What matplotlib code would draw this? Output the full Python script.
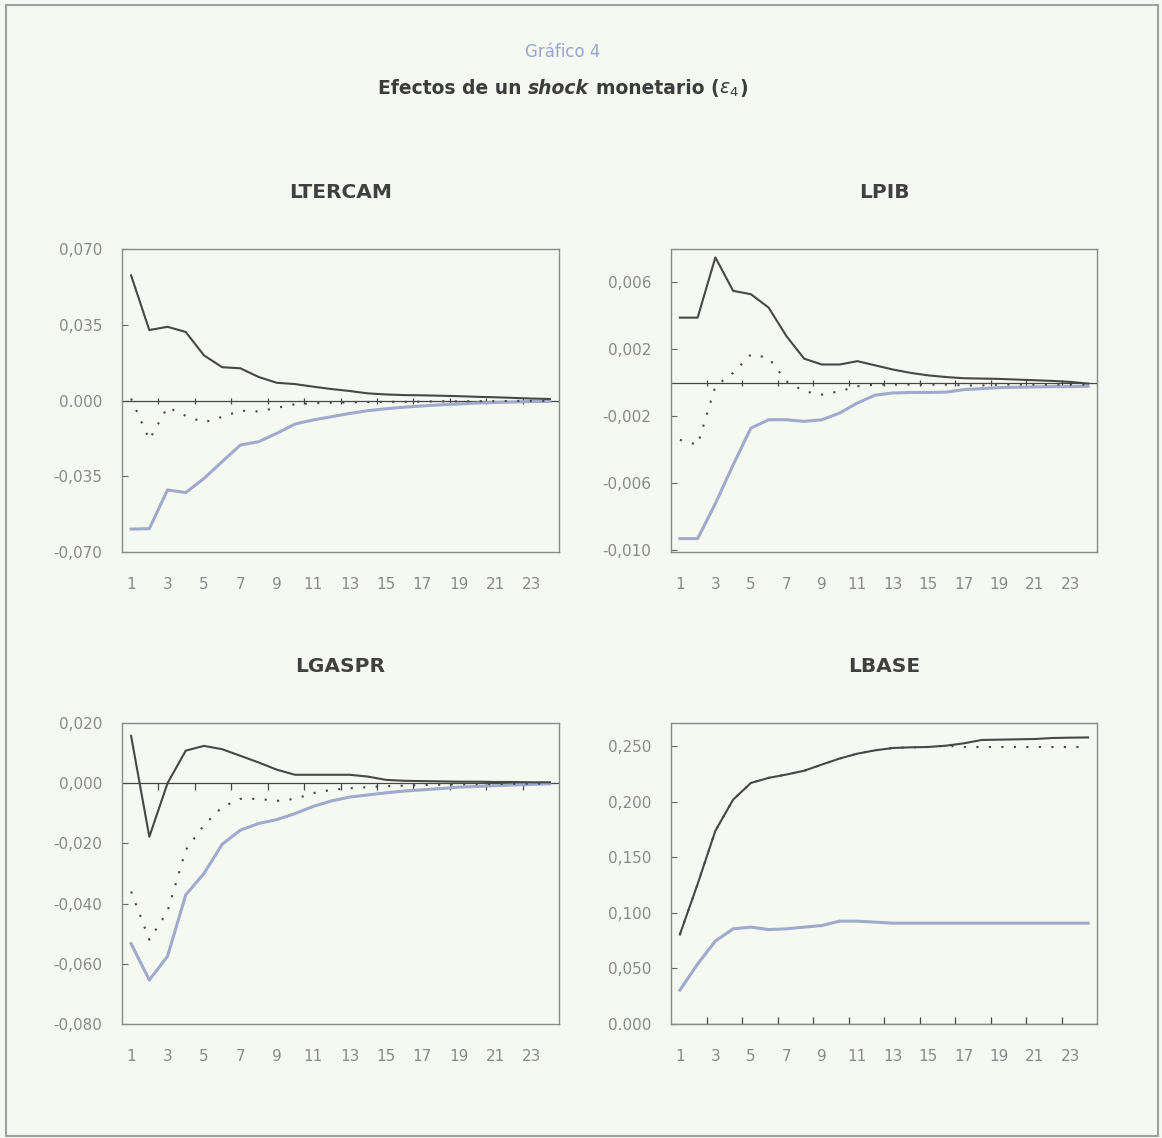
import matplotlib
matplotlib.use("Agg")
import matplotlib.pyplot as plt
from matplotlib.patches import Rectangle

# periods (quarters after the shock)
periods = list(range(1, 25))
xtick_pos = [1, 3, 5, 7, 9, 11, 13, 15, 17, 19, 21, 23]
xtick_labels = ["1", "3", "5", "7", "9", "11", "13", "15", "17", "19", "21", "23"]
cat_ticks = [2.5, 4.5, 6.5, 8.5, 10.5, 12.5, 14.5, 16.5, 18.5, 20.5, 22.5]

# LTERCAM
ltercam_upper = [0.058, 0.0327, 0.0342, 0.0318, 0.021, 0.0155, 0.015, 0.011, 0.0083, 0.0077,
                 0.0065, 0.0054, 0.0045, 0.0034, 0.0029, 0.0026, 0.0025, 0.0023, 0.0021, 0.0018,
                 0.0016, 0.0013, 0.0010, 0.0008]
ltercam_point = [0.001, -0.018, -0.003, -0.007, -0.010, -0.0075, -0.0046, -0.005, -0.0033, -0.0016,
                 -0.0012, -0.0009, -0.0008, -0.0006, -0.0005, -0.0005, -0.0004, -0.0003, -0.0003, -0.0002,
                 -0.0002, -0.0001, -0.0001, -0.0001]
ltercam_lower = [-0.0594, -0.0592, -0.0413, -0.0425, -0.036, -0.0282, -0.0205, -0.019, -0.0151, -0.0108,
                 -0.0089, -0.0074, -0.0059, -0.0046, -0.0037, -0.0030, -0.0024, -0.0019, -0.0015, -0.0011,
                 -0.0008, -0.0006, -0.0004, -0.0003]
ltercam_yticks = [0.070, 0.035, 0.0, -0.035, -0.070]
ltercam_ylabels = ["0,070", "0,035", "0.000", "-0,035", "-0,070"]

# LPIB
lpib_upper = [0.0039, 0.0039, 0.0075, 0.0055, 0.0053, 0.0045, 0.0028, 0.00145, 0.0011, 0.0011,
              0.0013, 0.00105, 0.0008, 0.0006, 0.00045, 0.00035, 0.00028, 0.00026, 0.00024, 0.0002,
              0.00016, 0.00012, 0.00006, -0.00004]
lpib_point = [-0.0034, -0.0037, -0.0002, 0.0006, 0.0017, 0.0015, 0.0001, -0.0005, -0.0007, -0.0005,
              -0.0002, -0.0001, -0.0001, -0.0001, -0.0001, -0.0001, -0.00015, -0.00015, -0.0001, -0.0001,
              -0.0001, -0.0001, -0.0001, -0.0001]
lpib_lower = [-0.0093, -0.0093, -0.0072, -0.0049, -0.0027, -0.0022, -0.0022, -0.0023, -0.0022, -0.0018,
              -0.0012, -0.00073, -0.0006, -0.00057, -0.00057, -0.00055, -0.0004, -0.00034, -0.00028, -0.00026,
              -0.00024, -0.00022, -0.00022, -0.0002]
lpib_yticks = [0.006, 0.002, -0.002, -0.006, -0.010]
lpib_ylabels = ["0,006", "0,002", "-0,002", "-0,006", "-0,010"]

# LGASPR
lgaspr_upper = [0.0157, -0.0178, 0.0, 0.0108, 0.0124, 0.0113, 0.0091, 0.0069, 0.0045, 0.0028,
                0.0028, 0.0028, 0.0028, 0.0022, 0.0011, 0.0008, 0.0007, 0.0006, 0.0005, 0.0005,
                0.0004, 0.0004, 0.0003, 0.0003]
lgaspr_point = [-0.036, -0.052, -0.0426, -0.0222, -0.014, -0.0079, -0.0052, -0.0052, -0.0059, -0.0052,
                -0.0033, -0.0022, -0.0017, -0.0013, -0.0010, -0.0008, -0.0006, -0.0005, -0.0004, -0.0003,
                -0.0003, -0.0002, -0.0002, -0.0001]
lgaspr_lower = [-0.0533, -0.0654, -0.0575, -0.0371, -0.030, -0.0203, -0.0156, -0.0134, -0.0121, -0.0101,
                -0.0077, -0.0059, -0.0046, -0.0039, -0.0032, -0.0026, -0.0022, -0.0018, -0.0013, -0.0011,
                -0.0008, -0.0006, -0.0004, -0.0002]
lgaspr_yticks = [0.020, 0.0, -0.020, -0.040, -0.060, -0.080]
lgaspr_ylabels = ["0,020", "0,000", "-0,020", "-0,040", "-0,060", "-0,080"]

# LBASE
lbase_upper = [0.0806, 0.126, 0.174, 0.202, 0.217, 0.2216, 0.2246, 0.228, 0.2336, 0.239,
               0.2434, 0.2464, 0.2485, 0.2491, 0.2494, 0.2506, 0.2527, 0.2557, 0.256, 0.2563,
               0.2566, 0.2575, 0.2578, 0.258]
lbase_point = [0.0806, 0.126, 0.174, 0.202, 0.217, 0.2216, 0.2246, 0.228, 0.2336, 0.239,
               0.2434, 0.2464, 0.2485, 0.2491, 0.2494, 0.2506, 0.2494, 0.2494, 0.2494, 0.2494,
               0.2494, 0.2494, 0.2494, 0.2494]
lbase_lower = [0.0305, 0.054, 0.0747, 0.0857, 0.0872, 0.085, 0.0857, 0.0872, 0.0887, 0.0926,
               0.0926, 0.0917, 0.0908, 0.0908, 0.0908, 0.0908, 0.0908, 0.0908, 0.0908, 0.0908,
               0.0908, 0.0908, 0.0908, 0.0908]
lbase_yticks = [0.250, 0.200, 0.150, 0.100, 0.050, 0.0]
lbase_ylabels = ["0,250", "0,200", "0,150", "0,100", "0,050", "0.000"]

BG = "#f6f8f2"
DARK = "#474747"
BLUE = "#a0aacb"
GREY_TXT = "#8a8a8a"

W, H = 1162, 1138
fig = plt.figure(figsize=(W / 100, H / 100), dpi=100, facecolor=BG)

# outer frame
fig.add_artist(Rectangle((6 / W, 2 / H), 1152 / W, 1131 / H, transform=fig.transFigure,
                         fill=False, edgecolor="#a0a0a0", lw=1.5))

panels = [
    ("LTERCAM", [122, 249, 559, 552], ltercam_upper, ltercam_point, ltercam_lower,
     (-0.070, 0.0702), ltercam_yticks, ltercam_ylabels, "inout"),
    ("LPIB", [671, 249, 1097, 552], lpib_upper, lpib_point, lpib_lower,
     (-0.0101, 0.0080), lpib_yticks, lpib_ylabels, "inout"),
    ("LGASPR", [122, 723, 559, 1024], lgaspr_upper, lgaspr_point, lgaspr_lower,
     (-0.080, 0.020), lgaspr_yticks, lgaspr_ylabels, "in"),
    ("LBASE", [671, 723, 1097, 1024], lbase_upper, lbase_point, lbase_lower,
     (0.0, 0.271), lbase_yticks, lbase_ylabels, "in"),
]

for name, (x0, y0, x1, y1), upper, point, lower, ylim, yt, ylab, tdir in panels:
    ax = fig.add_axes([x0 / W, 1 - y1 / H, (x1 - x0) / W, (y1 - y0) / H])
    ax.set_facecolor(BG)
    ax.plot(periods, lower, color=BLUE, lw=2.2, solid_joinstyle="round", zorder=3)
    ax.plot(periods, upper, color=DARK, lw=1.5, zorder=4)
    ax.plot(periods, point, color=DARK, lw=1.5, linestyle=(0, (1, 5)), zorder=4)
    ax.axhline(0, color=DARK, lw=0.9, zorder=2)
    ax.set_xlim(0.5, 24.5)
    ax.set_ylim(*ylim)
    for sp in ax.spines.values():
        sp.set_color("#8a8a8a")
        sp.set_linewidth(1.0)
    ax.set_yticks(yt)
    ax.set_yticklabels(ylab)
    ax.set_xticks(xtick_pos)
    ax.set_xticklabels(xtick_labels)
    ax.tick_params(axis="y", direction="in", length=4, width=0.8, color="#666666",
                   pad=14, labelsize=11, labelcolor=GREY_TXT)
    ax.tick_params(axis="x", length=0, pad=18, labelsize=11, labelcolor=GREY_TXT)
    ax.set_title(name, fontsize=14.5, fontweight="bold", color="#404040", pad=37)

    # category separators sitting on the zero line
    zero_frac = (0 - ylim[0]) / (ylim[1] - ylim[0])
    sec = ax.secondary_xaxis(zero_frac)
    sec.set_xticks(cat_ticks)
    sec.tick_params(direction=tdir, length=5, width=0.9, color=DARK,
                    labelbottom=False, labeltop=False)
    for sp in sec.spines.values():
        sp.set_visible(False)

# figure titles
fig.text(563 / W, 1 - 57 / H, "Gráfico 4", ha="center", va="baseline",
         fontsize=12, color="#98a5cf")

renderer = fig.canvas.get_renderer()
parts = [
    ("Efectos de un", "normal", True),
    ("shock", "italic", True),
    ("monetario (", "normal", False),
    (r"$\varepsilon_4$", "normal", False),
    (")", "normal", False),
]
probe_a = fig.text(0, 0, "a a", fontsize=13.5, fontweight="bold")
probe_b = fig.text(0, 0, "aa", fontsize=13.5, fontweight="bold")
space_w = (probe_a.get_window_extent(renderer).width
           - probe_b.get_window_extent(renderer).width)
probe_a.remove()
probe_b.remove()

texts = []
total = 0
for s, style, gap in parts:
    t = fig.text(0, 1 - 94 / H, s, fontsize=13.5, fontweight="bold", style=style,
                 color="#3c3c3c", va="baseline", ha="left")
    w = t.get_window_extent(renderer).width
    texts.append((t, w, gap))
    total += w + (space_w if gap else 0)

xpos = 563 - total / 2
for t, w, gap in texts:
    t.set_x(xpos / W)
    xpos += w + (space_w if gap else 0)

fig.savefig("out.png", dpi=100, facecolor=BG)
